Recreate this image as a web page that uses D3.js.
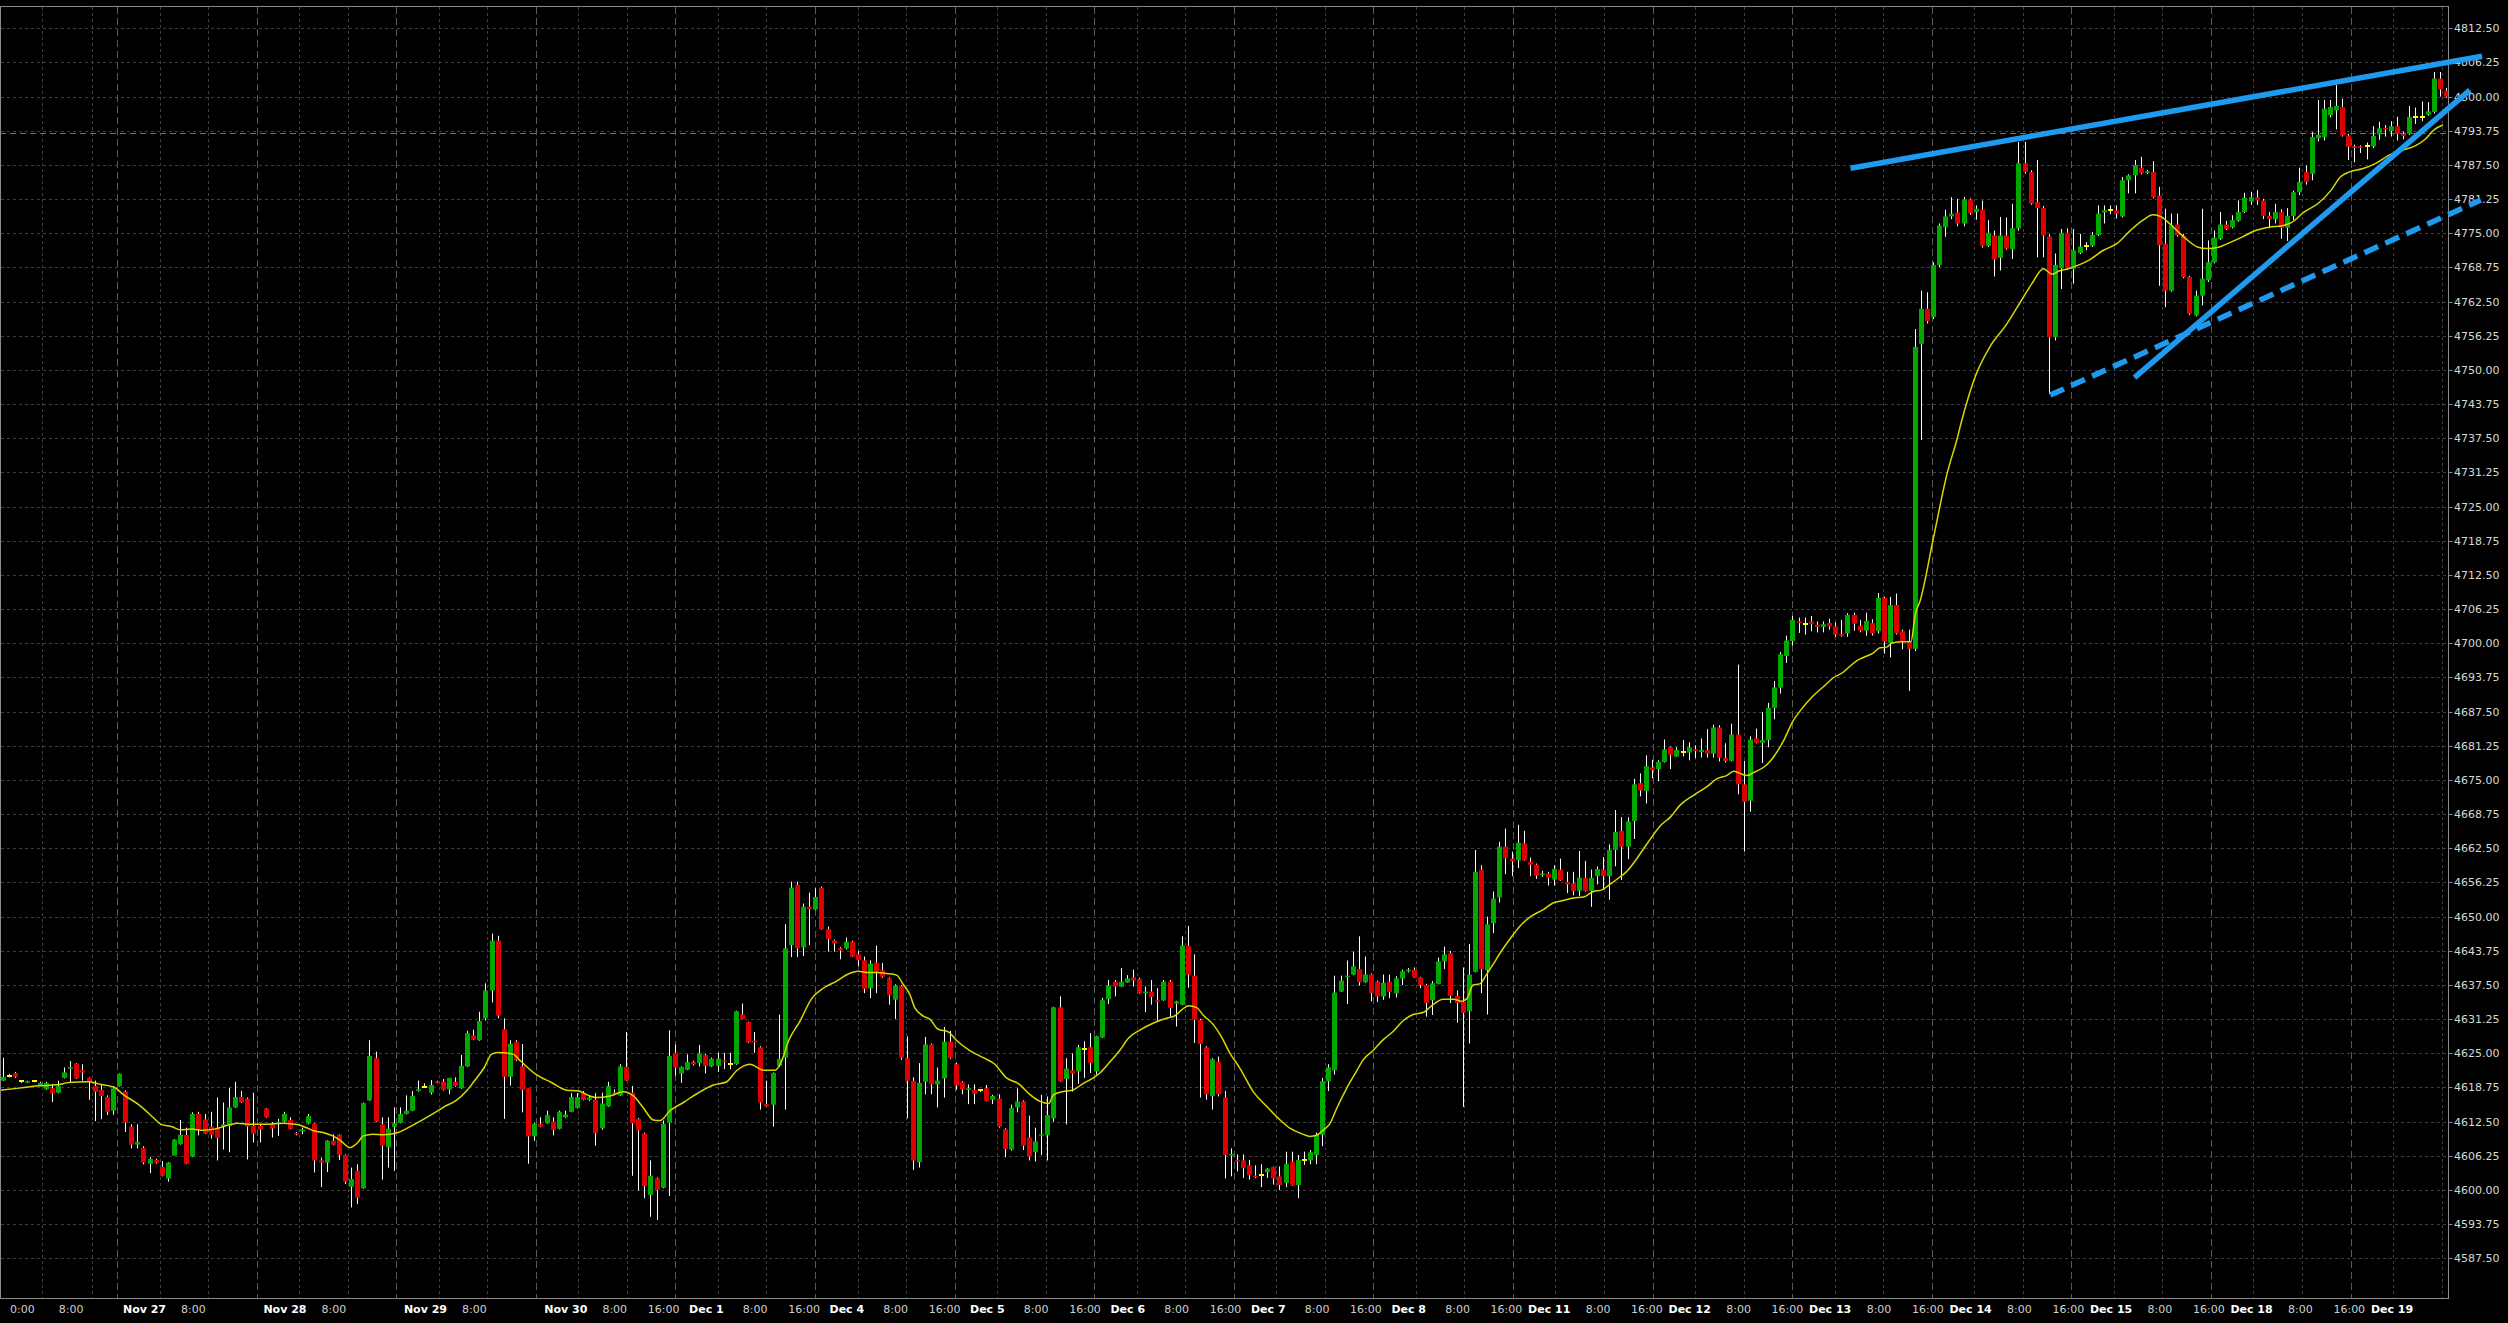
<!DOCTYPE html>
<html><head><meta charset="utf-8">
<script src="https://cdn.jsdelivr.net/npm/d3@7"></script>
<style>html,body{margin:0;padding:0;background:#000;overflow:hidden}</style>
</head><body>
<svg id="chart" width="2508" height="1323"></svg>
<script>
// ---- data (hourly bars, index 0..400) ----
const opens = [4620.0,4620.9,4621.4,4619.85,4619.7,4619.85,4619.2,4618.4,4618.6,4617.8,4620.5,4622.2,4623.1,4621.9,4620.5,4619.05,4618.3,4617.0,4614.5,4619.0,4618.0,4611.6,4608.3,4607.7,4604.8,4605.5,4604.2,4602.1,4606.3,4608.4,4610.1,4606.1,4613.9,4612.9,4611.6,4611.4,4611.8,4611.7,4615.1,4617.0,4616.7,4611.7,4611.7,4614.9,4612.0,4612.2,4612.5,4612.8,4610.45,4610.7,4612.1,4612.1,4605.4,4605.0,4609.0,4610.1,4606.4,4600.6,4603.5,4600.3,4616.4,4624.1,4612.0,4607.8,4611.55,4612.3,4613.9,4614.5,4618.1,4618.9,4617.8,4619.85,4619.8,4618.4,4619.8,4618.6,4622.6,4628.3,4627.4,4631.4,4636.5,4645.6,4629.4,4620.7,4627.1,4622.6,4618.6,4609.8,4612.1,4612.2,4612.5,4611.2,4613.3,4614.3,4615.0,4617.8,4616.5,4616.5,4611.3,4615.3,4617.8,4617.3,4622.5,4617.8,4613.0,4610.3,4599.1,4602.1,4600.4,4612.3,4625.1,4621.3,4622.0,4623.4,4623.2,4624.7,4622.6,4622.7,4623.7,4623.1,4623.05,4632.1,4630.7,4627.3,4626.1,4615.7,4615.6,4622.7,4624.2,4644.8,4655.8,4644.4,4651.8,4651.3,4655.3,4647.7,4645.6,4644.2,4644.2,4645.4,4643.1,4642.0,4636.9,4641.6,4640.2,4638.7,4634.8,4637.3,4624.1,4619.95,4605.1,4619.8,4626.6,4619.3,4620.4,4627.1,4623.0,4619.7,4618.3,4618.3,4618.2,4618.6,4616.5,4616.7,4611.1,4607.4,4615.1,4616.2,4609.6,4606.9,4610.0,4610.0,4613.1,4633.4,4620.3,4621.9,4621.7,4625.7,4626.1,4621.7,4627.9,4634.9,4638.1,4637.2,4637.95,4638.9,4638.6,4636.0,4636.3,4634.7,4634.7,4638.1,4634.1,4633.9,4644.7,4639.2,4631.1,4626.1,4617.2,4623.4,4616.9,4606.3,4605.5,4605.4,4604.5,4602.65,4602.65,4603.25,4604.2,4602.5,4601.3,4605.2,4600.9,4605.45,4605.4,4606.4,4610.1,4619.9,4621.9,4636.3,4639.0,4639.4,4640.4,4638.0,4639.4,4638.1,4635.4,4638.1,4636.0,4638.7,4640.0,4640.3,4638.9,4637.5,4634.7,4637.7,4641.8,4643.3,4635.5,4634.4,4632.7,4639.9,4658.6,4640.2,4648.8,4653.5,4662.8,4660.6,4660.3,4663.4,4660.0,4659.5,4657.6,4657.9,4656.8,4658.6,4656.3,4656.1,4654.7,4657.1,4654.7,4657.4,4658.6,4657.4,4662.2,4665.7,4662.8,4667.5,4674.4,4673.0,4677.3,4677.0,4678.3,4681.0,4679.3,4680.1,4680.0,4680.6,4680.1,4680.5,4679.8,4684.6,4679.0,4678.5,4683.3,4674.2,4671.2,4682.6,4681.8,4682.3,4688.2,4691.9,4697.7,4700.4,4704.0,4703.5,4704.0,4703.4,4703.0,4703.7,4703.1,4701.7,4701.8,4705.2,4703.2,4702.3,4703.7,4702.2,4708.3,4700.1,4707.0,4702.2,4700.4,4699.0,4754.8,4761.2,4759.7,4769.2,4776.1,4778.1,4778.8,4776.8,4781.2,4778.9,4779.3,4772.7,4774.6,4770.5,4774.6,4772.1,4775.9,4787.8,4786.2,4780.7,4779.6,4774.4,4756.0,4768.6,4775.1,4768.5,4771.4,4772.7,4772.7,4774.7,4778.8,4779.2,4779.2,4778.1,4784.7,4785.6,4787.0,4786.0,4786.2,4781.9,4773.1,4764.5,4776.6,4774.6,4767.0,4760.0,4763.6,4766.4,4769.7,4774.0,4776.6,4776.1,4777.3,4778.9,4780.8,4781.6,4781.0,4778.2,4777.6,4778.9,4776.0,4778.2,4782.5,4786.2,4785.9,4792.4,4792.6,4796.6,4797.5,4798.1,4792.9,4790.9,4790.9,4790.9,4790.9,4793.1,4794.3,4793.7,4794.6,4793.2,4793.2,4796.3,4796.3,4796.7,4797.2,4803.3,4801.1];
const highs = [4624.2,4621.2,4621.6,4620.1,4620.0,4620.0,4619.8,4619.8,4619.4,4620.0,4622.4,4623.6,4623.2,4623.0,4620.6,4620.0,4619.4,4617.3,4619.0,4621.3,4618.2,4612.0,4612.0,4608.0,4606.0,4605.7,4605.3,4605.1,4609.3,4612.8,4611.4,4614.2,4614.3,4613.9,4614.3,4616.9,4616.0,4618.7,4619.8,4618.1,4616.9,4617.8,4612.0,4615.0,4612.4,4613.0,4614.3,4613.3,4610.6,4611.4,4613.9,4612.2,4605.9,4609.1,4610.2,4610.2,4606.5,4604.1,4604.7,4616.0,4627.4,4625.3,4613.3,4613.3,4615.1,4615.1,4617.3,4618.1,4620.0,4619.5,4620.1,4620.0,4620.3,4620.5,4620.6,4624.7,4629.1,4629.3,4632.6,4637.8,4646.9,4646.5,4631.4,4627.4,4627.4,4626.7,4618.6,4612.3,4613.3,4614.5,4613.3,4614.5,4614.5,4617.7,4617.7,4618.1,4617.3,4617.7,4617.8,4619.8,4618.4,4623.0,4628.9,4619.0,4613.2,4610.5,4605.4,4602.3,4612.7,4629.2,4626.6,4622.6,4624.8,4623.6,4626.5,4624.9,4624.2,4625.1,4625.1,4625.1,4632.8,4634.1,4630.8,4628.9,4626.3,4620.0,4621.5,4632.1,4648.6,4656.4,4656.4,4652.4,4654.4,4655.2,4655.5,4648.2,4645.8,4644.4,4646.2,4645.6,4643.7,4642.7,4642.0,4644.7,4641.5,4638.9,4637.6,4637.5,4628.1,4620.6,4623.2,4628.0,4626.8,4622.4,4629.8,4629.1,4623.3,4619.9,4619.3,4619.3,4618.4,4619.2,4617.4,4617.5,4611.3,4615.6,4618.6,4616.4,4613.6,4611.4,4617.4,4617.1,4633.5,4635.4,4624.1,4625.0,4626.5,4627.2,4628.7,4628.2,4635.1,4638.4,4638.4,4640.6,4639.3,4640.3,4638.8,4637.2,4638.4,4636.9,4638.4,4638.4,4634.6,4646.4,4648.3,4643.1,4631.3,4626.3,4624.1,4624.4,4618.1,4607.6,4606.5,4606.5,4605.5,4604.5,4604.7,4604.0,4604.3,4604.3,4607.0,4607.0,4606.4,4607.0,4607.3,4610.5,4620.5,4623.0,4639.2,4639.2,4642.0,4643.6,4646.4,4642.7,4639.6,4638.3,4639.4,4639.4,4639.1,4640.3,4640.6,4640.7,4639.0,4637.7,4638.2,4642.5,4644.5,4643.7,4636.5,4640.7,4645.0,4662.2,4659.4,4650.0,4654.6,4663.7,4666.1,4661.9,4666.8,4665.7,4660.8,4659.7,4658.4,4658.2,4659.4,4660.6,4658.2,4658.2,4662.0,4660.2,4658.6,4659.2,4660.9,4663.2,4669.5,4668.2,4668.2,4675.2,4676.2,4679.5,4678.7,4678.6,4682.4,4681.1,4681.0,4682.3,4681.9,4681.3,4682.6,4684.3,4685.1,4685.0,4681.7,4685.3,4696.1,4678.5,4683.0,4684.4,4687.4,4689.1,4693.1,4698.4,4701.4,4705.0,4704.7,4704.7,4705.0,4704.0,4704.0,4704.5,4703.8,4704.3,4705.5,4705.6,4704.3,4705.6,4704.4,4709.2,4708.5,4708.5,4709.1,4702.5,4702.5,4757.5,4764.5,4764.2,4769.7,4776.8,4779.3,4781.6,4781.3,4781.6,4781.4,4780.1,4781.0,4777.4,4775.5,4778.0,4777.9,4780.4,4791.7,4791.7,4786.5,4788.4,4780.0,4774.8,4771.3,4775.8,4775.9,4775.8,4774.9,4773.4,4775.2,4780.1,4780.1,4780.1,4780.1,4785.3,4785.8,4788.4,4789.0,4786.6,4788.2,4783.5,4779.5,4778.6,4778.6,4774.9,4767.2,4764.5,4779.5,4773.7,4775.5,4778.9,4777.3,4778.3,4781.0,4782.4,4782.6,4782.9,4781.3,4778.9,4780.4,4779.4,4779.6,4782.8,4787.0,4787.4,4793.5,4799.4,4799.4,4799.4,4802.1,4799.6,4793.2,4791.2,4791.1,4791.6,4794.6,4795.4,4794.8,4795.5,4796.3,4793.6,4798.3,4798.0,4799.1,4799.0,4804.5,4804.5,4801.6];
const lows = [4619.9,4620.6,4620.5,4619.6,4619.6,4619.7,4619.1,4618.3,4616.1,4617.7,4620.4,4619.6,4620.3,4620.0,4616.5,4612.6,4612.95,4613.7,4613.75,4618.9,4610.6,4607.6,4607.6,4604.7,4603.1,4604.8,4602.5,4601.5,4606.3,4608.3,4604.7,4606.0,4610.0,4610.2,4609.4,4605.4,4607.4,4606.9,4615.0,4615.9,4605.6,4608.7,4608.7,4613.2,4609.6,4609.9,4612.4,4611.1,4610.0,4610.2,4612.0,4603.2,4600.5,4603.3,4608.2,4605.5,4601.1,4596.8,4597.4,4600.2,4616.3,4612.4,4601.9,4604.1,4603.5,4612.2,4613.8,4614.4,4618.0,4618.7,4617.5,4619.5,4618.2,4617.5,4618.9,4618.5,4622.5,4627.4,4627.3,4631.0,4634.3,4631.4,4613.0,4619.1,4623.6,4614.2,4604.8,4609.0,4611.5,4612.1,4610.0,4611.1,4613.2,4614.2,4614.9,4616.4,4616.3,4608.1,4611.0,4615.2,4617.3,4617.2,4619.9,4602.6,4599.9,4598.5,4595.1,4594.5,4600.3,4598.9,4620.9,4619.6,4621.9,4622.8,4622.6,4621.3,4622.5,4621.6,4622.1,4622.1,4622.9,4631.2,4626.9,4625.1,4614.7,4615.2,4611.6,4622.5,4614.7,4642.6,4642.6,4642.8,4644.8,4651.2,4647.6,4643.6,4643.6,4642.2,4644.0,4642.6,4640.9,4636.0,4635.1,4636.0,4638.8,4633.9,4631.3,4623.8,4613.1,4603.7,4604.1,4617.5,4617.5,4615.1,4616.9,4624.0,4618.3,4617.5,4615.7,4615.7,4617.9,4616.2,4615.7,4611.4,4606.0,4607.2,4614.2,4607.3,4605.4,4605.2,4606.4,4605.4,4612.5,4619.8,4612.0,4618.0,4619.4,4620.5,4621.4,4621.1,4627.8,4634.0,4635.4,4637.1,4637.9,4637.2,4635.9,4632.5,4633.9,4630.9,4634.6,4631.7,4629.9,4633.8,4637.0,4626.9,4616.9,4616.5,4614.7,4617.1,4602.1,4602.5,4603.4,4602.2,4601.9,4602.2,4600.5,4602.2,4601.0,4600.0,4600.5,4600.8,4598.5,4604.6,4604.7,4604.7,4608.0,4618.1,4621.1,4636.2,4634.0,4639.3,4637.4,4637.9,4634.5,4634.4,4634.8,4635.1,4635.2,4637.5,4639.8,4638.8,4636.9,4631.7,4632.0,4637.6,4640.4,4634.2,4630.6,4615.2,4626.8,4639.8,4636.0,4632.1,4647.0,4652.6,4657.8,4657.4,4658.9,4660.2,4657.4,4656.9,4657.3,4655.7,4655.7,4656.5,4654.3,4653.9,4653.8,4654.6,4651.8,4655.9,4654.9,4653.1,4659.2,4656.7,4660.5,4664.2,4672.0,4670.7,4675.3,4674.8,4678.2,4677.0,4679.2,4679.3,4678.6,4679.0,4679.1,4679.1,4679.1,4678.4,4678.2,4678.4,4672.4,4661.9,4669.2,4681.7,4678.1,4681.0,4686.1,4690.8,4696.4,4699.6,4701.9,4701.6,4702.2,4702.0,4702.0,4702.5,4701.2,4701.2,4701.2,4702.3,4702.0,4701.4,4701.4,4701.8,4698.1,4697.4,4701.6,4698.9,4691.3,4698.6,4737.2,4758.5,4759.3,4768.8,4774.4,4777.6,4776.3,4776.3,4778.4,4777.5,4772.4,4772.5,4767.1,4768.2,4772.0,4770.3,4775.5,4785.9,4780.2,4770.6,4770.6,4745.6,4755.4,4764.8,4768.3,4765.8,4771.2,4771.9,4772.5,4774.5,4776.8,4778.5,4777.7,4777.9,4782.3,4782.3,4785.8,4785.8,4781.4,4765.4,4761.5,4764.3,4774.4,4766.8,4760.1,4759.8,4761.8,4766.1,4769.5,4773.8,4775.6,4775.9,4777.1,4778.7,4780.2,4780.2,4777.6,4775.9,4776.8,4774.0,4773.6,4777.4,4782.0,4783.9,4784.7,4791.8,4792.0,4796.2,4794.0,4792.7,4788.4,4788.0,4789.7,4788.5,4790.6,4792.1,4792.7,4792.7,4792.0,4792.2,4793.0,4795.0,4795.5,4796.5,4796.9,4800.0,4799.8];
const closes = [4620.7,4620.9,4620.7,4619.85,4619.9,4619.85,4619.6,4619.6,4617.65,4619.0,4621.5,4622.5,4620.4,4621.5,4619.8,4617.95,4617.2,4614.3,4618.6,4621.25,4612.35,4608.3,4608.8,4605.0,4605.7,4605.0,4602.6,4605.0,4609.2,4610.1,4604.8,4613.9,4611.1,4610.3,4610.1,4609.5,4612.0,4615.1,4617.0,4616.0,4611.6,4610.3,4611.1,4613.3,4611.25,4612.4,4613.9,4611.2,4610.2,4611.05,4613.5,4605.4,4605.0,4609.0,4608.3,4606.4,4601.5,4602.0,4598.6,4615.9,4624.5,4612.5,4608.1,4611.2,4612.2,4613.9,4614.5,4617.2,4618.4,4618.9,4619.2,4619.55,4618.3,4620.5,4619.05,4622.7,4628.7,4627.5,4630.9,4636.5,4645.6,4631.9,4620.7,4626.8,4623.8,4618.3,4609.8,4612.1,4611.6,4613.7,4611.0,4614.3,4613.8,4617.0,4617.0,4616.5,4616.9,4610.4,4615.8,4619.0,4617.5,4622.6,4620.0,4612.2,4610.9,4600.7,4602.6,4600.0,4612.1,4624.5,4622.4,4622.5,4623.4,4623.0,4625.0,4622.7,4624.0,4624.0,4623.4,4623.1,4632.7,4631.3,4627.0,4627.0,4616.0,4615.3,4621.4,4624.0,4644.2,4655.3,4644.2,4651.8,4651.4,4653.6,4647.7,4645.9,4645.1,4643.8,4645.4,4642.7,4642.0,4636.8,4641.4,4639.9,4639.0,4635.6,4637.4,4624.2,4619.95,4605.4,4619.6,4626.6,4619.3,4620.0,4627.1,4624.2,4619.1,4618.4,4618.6,4617.6,4618.2,4616.3,4617.2,4611.6,4607.5,4615.0,4616.2,4608.1,4606.1,4608.9,4610.2,4613.7,4633.4,4619.9,4622.2,4621.3,4626.1,4625.7,4623.2,4628.1,4634.7,4637.4,4637.2,4638.1,4638.7,4638.3,4636.0,4636.3,4635.3,4634.4,4638.1,4633.3,4634.5,4644.7,4639.4,4631.1,4626.7,4617.5,4623.9,4617.5,4606.4,4606.6,4605.2,4604.0,4602.7,4602.35,4602.65,4603.9,4602.1,4600.9,4604.8,4600.9,4605.5,4605.45,4606.9,4610.1,4619.9,4622.4,4636.1,4638.3,4639.2,4640.9,4638.0,4639.4,4636.0,4635.4,4637.9,4636.2,4638.7,4640.0,4640.3,4638.9,4637.5,4634.2,4637.8,4641.8,4643.1,4635.5,4634.2,4632.4,4639.4,4658.2,4640.4,4648.6,4653.3,4662.8,4660.7,4660.1,4663.5,4660.3,4659.5,4657.5,4657.9,4657.1,4658.7,4656.6,4655.9,4654.7,4657.1,4654.7,4657.1,4658.7,4657.4,4662.2,4665.5,4662.8,4667.4,4674.2,4673.1,4677.5,4676.8,4678.3,4680.6,4679.6,4680.5,4680.1,4681.0,4680.3,4680.5,4679.8,4684.6,4679.1,4678.5,4683.3,4674.2,4671.0,4682.4,4681.8,4682.3,4688.2,4691.9,4698.0,4700.5,4704.3,4703.7,4703.5,4703.5,4703.0,4703.5,4703.1,4701.6,4701.4,4705.2,4703.6,4702.3,4704.1,4701.8,4708.3,4700.3,4707.0,4701.8,4700.4,4699.0,4754.2,4761.2,4758.9,4769.2,4776.4,4778.1,4778.6,4776.8,4781.2,4778.7,4779.5,4772.7,4775.1,4770.2,4774.6,4772.2,4775.9,4787.8,4786.2,4780.4,4779.6,4774.6,4756.0,4769.2,4775.1,4768.6,4771.9,4772.6,4772.7,4774.7,4778.6,4779.2,4779.2,4778.6,4784.7,4785.6,4787.5,4786.0,4786.3,4781.6,4772.8,4764.5,4776.4,4774.6,4767.0,4760.3,4763.6,4766.7,4769.7,4774.2,4776.6,4775.8,4777.4,4778.9,4781.5,4781.6,4781.0,4778.2,4777.6,4778.9,4776.0,4778.2,4782.5,4784.4,4784.4,4792.6,4793.0,4797.8,4798.1,4798.3,4792.9,4790.8,4790.7,4790.8,4790.9,4792.8,4794.2,4794.0,4794.6,4793.2,4792.8,4796.3,4796.3,4796.3,4797.3,4803.3,4801.3,4800.0];

// moving average (yellow line): bar index / value
const maIndex = [-0.5,2.6,5.8,8.9,10.8,13.9,15.8,18.3,19.6,22.1,24.6,25.8,27.7,29.0,30.8,32.7,34.6,36.5,38.4,40.2,43.4,45.9,48.4,49.6,50.9,52.8,54.0,55.3,56.8,58.1,59.0,60.6,62.2,64.7,65.9,68.4,70.9,72.2,74.1,76.0,77.2,78.8,80.0,81.0,83.5,84.7,87.2,89.8,92.3,94.1,96.1,97.2,99.4,101.6,103.2,104.8,106.5,107.6,109.2,111.4,113.6,116.3,118.5,120.1,122.3,124.5,126.4,127.5,128.6,130.5,132.4,134.3,136.5,138.4,140.0,141.4,143.0,144.7,146.3,147.4,148.5,149.3,150.7,151.8,153.1,154.8,156.1,158.3,160.5,162.4,164.3,166.2,168.2,169.8,171.2,172.0,173.6,175.2,176.9,178.5,179.6,181.3,182.9,184.3,186.2,188.3,189.4,190.5,191.9,193.0,194.1,195.4,196.5,198.2,199.3,200.9,202.5,204.7,206.9,209.1,210.7,212.4,214.0,215.1,216.2,217.3,218.4,220.0,221.6,222.7,224.4,226.0,227.6,229.3,230.9,232.6,233.7,235.8,237.5,238.8,239.7,240.7,241.8,242.9,244.0,245.1,246.8,248.4,250.0,252.2,253.8,255.5,257.1,258.8,260.4,261.8,263.1,264.8,265.9,267.5,269.1,271.6,273.0,274.6,276.8,279.0,280.6,282.2,283.4,284.4,285.5,286.9,288.5,289.9,291.5,293.1,294.8,296.4,298.1,299.7,301.3,302.4,303.5,304.6,306.2,307.3,308.4,309.2,310.6,312.4,313.1,313.9,316.1,318.3,319.9,320.7,323.1,325.3,327.9,330.8,332.2,334.1,335.5,336.6,338.1,340.3,341.7,343.9,346.1,348.3,350.5,352.0,353.4,354.9,357.1,359.3,360.8,362.9,364.4,366.6,368.8,371.0,373.2,374.6,376.8,379.0,381.2,382.7,384.1,386.3,388.5,390.7,392.9,395.1,396.6,398.0,399.5];
const maValue = [4618.26,4618.63,4619.05,4619.24,4619.66,4619.79,4619.36,4618.75,4617.53,4615.7,4613.26,4612.04,4611.55,4611.0,4611.13,4610.94,4611.13,4611.74,4612.22,4612.04,4612.04,4612.22,4611.92,4611.43,4610.82,4610.39,4609.9,4608.99,4607.77,4608.69,4609.9,4610.2,4610.09,4610.5,4611.13,4612.65,4614.3,4615.2,4616.3,4618.26,4619.97,4622.4,4624.85,4625.15,4624.85,4623.63,4621.19,4619.66,4618.26,4618.14,4617.2,4616.9,4617.2,4617.95,4617.2,4615.1,4612.8,4612.7,4614.5,4616.0,4617.6,4619.2,4619.8,4621.8,4623.0,4621.9,4621.9,4623.6,4627.2,4630.9,4635.0,4636.9,4638.2,4639.5,4640.0,4639.8,4639.8,4639.6,4639.3,4637.6,4635.7,4633.3,4631.8,4631.2,4629.4,4628.9,4627.4,4625.5,4624.2,4623.0,4620.5,4619.5,4617.4,4616.2,4615.8,4617.4,4618.0,4618.3,4619.5,4620.5,4621.4,4623.5,4625.6,4627.8,4629.3,4630.5,4631.0,4631.4,4631.9,4632.95,4633.7,4633.4,4632.0,4630.2,4628.4,4625.0,4622.3,4618.0,4615.3,4612.8,4611.3,4610.4,4609.8,4610.0,4611.0,4612.2,4615.0,4618.6,4621.7,4623.8,4625.6,4627.5,4629.0,4631.0,4632.1,4632.5,4633.5,4634.9,4634.9,4634.5,4635.0,4637.5,4637.7,4639.4,4641.3,4643.3,4646.0,4648.3,4649.9,4651.3,4652.5,4652.95,4653.4,4653.6,4654.6,4654.9,4655.9,4657.3,4658.3,4660.6,4663.2,4666.9,4668.2,4670.4,4672.2,4673.8,4675.2,4675.8,4676.6,4676.2,4675.8,4676.5,4677.5,4679.2,4682.1,4685.8,4688.4,4690.4,4692.1,4693.7,4694.7,4695.8,4696.8,4697.4,4698.2,4699.2,4699.3,4700.0,4700.3,4700.3,4705.3,4707.8,4719.4,4731.0,4737.2,4740.7,4749.3,4754.2,4758.1,4763.3,4765.8,4768.5,4767.5,4768.1,4768.5,4769.4,4770.2,4771.9,4773.1,4775.5,4777.5,4778.4,4778.0,4776.6,4774.3,4772.5,4772.2,4772.5,4773.2,4774.3,4775.5,4776.1,4776.4,4776.9,4778.9,4780.4,4782.9,4785.3,4786.2,4786.8,4787.8,4789.3,4790.2,4791.1,4792.2,4793.9,4794.8];

// hand-drawn trend lines (bar index / price at both ends)
const trendStartIdx   = [302.5, 349.0, 335.2];
const trendStartPrice = [4786.9, 4748.6, 4745.4];
const trendEndIdx     = [405.9, 403.9, 405.7];
const trendEndPrice   = [4807.4, 4801.2, 4781.1];

const yTickValues = [4587.5,4593.75,4600,4606.25,4612.5,4618.75,4625,4631.25,4637.5,4643.75,4650,4656.25,4662.5,4668.75,4675,4681.25,4687.5,4693.75,4700,4706.25,4712.5,4718.75,4725,4731.25,4737.5,4743.75,4750,4756.25,4762.5,4768.75,4775,4781.25,4787.5,4793.75,4800,4806.25,4812.5];

const xLabelIdx  = [3,11,23,31,46,54,69,77,92,100,108,115,123,131,138,146,154,161,169,177,184,192,200,207,215,223,230,238,246,253,261,269,276,284,292,299,307,315,322,330,338,345,353,361,368,376,384,391];
const xLabelText = ["0:00","8:00","Nov 27","8:00","Nov 28","8:00","Nov 29","8:00","Nov 30","8:00","16:00","Dec 1","8:00","16:00","Dec 4","8:00","16:00","Dec 5","8:00","16:00","Dec 6","8:00","16:00","Dec 7","8:00","16:00","Dec 8","8:00","16:00","Dec 11","8:00","16:00","Dec 12","8:00","16:00","Dec 13","8:00","16:00","Dec 14","8:00","16:00","Dec 15","8:00","16:00","Dec 18","8:00","16:00","Dec 19"];

const lastPriceLevel = 4793.4;

// ---- drawing ----
const W = 2508, H = 1323;
const plot = {left: 0, top: 6, right: 2448, bottom: 1298};
const svg = d3.select("#chart");
svg.append("rect").attr("width", W).attr("height", H).attr("fill", "#000");

const x = d3.scaleLinear().domain([0, 400]).range([3, 2446]);
const y = d3.scaleLinear().domain([4587.5, 4812.5]).range([1258.3, 28.3]);

svg.append("defs").append("clipPath").attr("id", "plotclip")
  .append("rect").attr("x", plot.left).attr("y", plot.top)
  .attr("width", plot.right - plot.left).attr("height", plot.bottom - plot.top);

// horizontal grid
const grid = svg.append("g");
grid.selectAll("line.h").data(yTickValues).join("line")
  .attr("x1", plot.left + 1).attr("x2", plot.right)
  .attr("y1", d => Math.round(y(d)) + 0.5).attr("y2", d => Math.round(y(d)) + 0.5)
  .attr("stroke", "#3d3d3d").attr("stroke-width", 1).attr("stroke-dasharray", "3,3");

// vertical grid (platform places it every 139.6 px with two minor lines between)
const majorX = [], minorX = [42, 92];
for (let px = 117; px < plot.right; px += 139.6) {
  majorX.push(Math.round(px));
  if (px + 42.5 < plot.right) minorX.push(Math.round(px + 42.5));
  if (px + 91 < plot.right) minorX.push(Math.round(px + 91));
}
grid.selectAll("line.vmin").data(minorX).join("line")
  .attr("x1", d => d + 0.5).attr("x2", d => d + 0.5)
  .attr("y1", plot.top + 1).attr("y2", plot.bottom)
  .attr("stroke", "#3d3d3d").attr("stroke-dasharray", "3,3");
grid.selectAll("line.vmaj").data(majorX).join("line")
  .attr("x1", d => d + 0.5).attr("x2", d => d + 0.5)
  .attr("y1", plot.top + 1).attr("y2", plot.bottom)
  .attr("stroke", "#5a5a5a").attr("stroke-dasharray", "7,4");

// last price dashed line
svg.append("line")
  .attr("x1", plot.left).attr("x2", plot.right)
  .attr("y1", Math.round(y(lastPriceLevel)) + 0.5).attr("y2", Math.round(y(lastPriceLevel)) + 0.5)
  .attr("stroke", "#6e6e6e").attr("stroke-dasharray", "6,4");

// candles
const bars = d3.range(opens.length).map(i => ({i, o: opens[i], h: highs[i], l: lows[i], c: closes[i]}));
const cg = svg.append("g").attr("clip-path", "url(#plotclip)");
cg.selectAll("line.wick").data(bars).join("line")
  .attr("x1", d => Math.round(x(d.i)) + 0.5).attr("x2", d => Math.round(x(d.i)) + 0.5)
  .attr("y1", d => y(d.h)).attr("y2", d => y(d.l))
  .attr("stroke", "#ffffff").attr("stroke-width", 1);
cg.selectAll("rect.body").data(bars).join("rect")
  .attr("x", d => Math.round(x(d.i)) - 2)
  .attr("width", 5)
  .attr("y", d => d.o === d.c ? Math.round(y(d.c)) - 1 : y(Math.max(d.o, d.c)))
  .attr("height", d => d.o === d.c ? 2 : Math.max(1.5, Math.abs(y(d.o) - y(d.c))))
  .attr("fill", d => d.o === d.c ? "#ffff00" : (d.c > d.o ? "#00a800" : "#dc0000"));

// moving average
const maPts = maIndex.map((v, k) => [v, maValue[k]]);
cg.append("path").datum(maPts)
  .attr("d", d3.line().x(d => x(d[0])).y(d => y(d[1])).curve(d3.curveMonotoneX))
  .attr("fill", "none").attr("stroke", "#d8d800").attr("stroke-width", 1.5);

// frame
svg.append("rect").attr("x", plot.left + 0.5).attr("y", plot.top + 0.5)
  .attr("width", plot.right - plot.left).attr("height", plot.bottom - plot.top)
  .attr("fill", "none").attr("stroke", "#8a8a8a").attr("stroke-width", 1);

// y axis labels
const ya = svg.append("g");
ya.selectAll("line").data(yTickValues).join("line")
  .attr("x1", plot.right + 0.5).attr("x2", plot.right + 4.5)
  .attr("y1", d => Math.round(y(d)) + 0.5).attr("y2", d => Math.round(y(d)) + 0.5)
  .attr("stroke", "#8a8a8a");
ya.selectAll("text").data(yTickValues).join("text")
  .attr("x", plot.right + 6).attr("y", d => y(d) + 4)
  .attr("font-family", "DejaVu Sans, Verdana, sans-serif").attr("font-size", 11)
  .attr("fill", "#d8d8d8")
  .text(d => d3.format(".2f")(d));

// x axis labels
const xa = svg.append("g");
xa.selectAll("text").data(xLabelIdx).join("text")
  .attr("x", d => x(d) + 1).attr("y", 1313)
  .attr("text-anchor", "middle")
  .attr("font-family", "DejaVu Sans, Verdana, sans-serif").attr("font-size", 11)
  .attr("font-weight", (d, k) => xLabelText[k].indexOf(":") < 0 ? "bold" : "normal")
  .attr("fill", (d, k) => xLabelText[k].indexOf(":") < 0 ? "#ffffff" : "#d0d0d0")
  .text((d, k) => xLabelText[k]);

// trend lines (drawn on top, not clipped)
const tl = svg.append("g");
trendStartIdx.forEach((s, k) => {
  tl.append("line")
    .attr("x1", x(s)).attr("y1", y(trendStartPrice[k]))
    .attr("x2", x(trendEndIdx[k])).attr("y2", y(trendEndPrice[k]))
    .attr("stroke", "#1e9bef").attr("stroke-width", 5.5)
    .attr("stroke-dasharray", k === 2 ? "15,8" : null);
});
</script>
</body></html>
